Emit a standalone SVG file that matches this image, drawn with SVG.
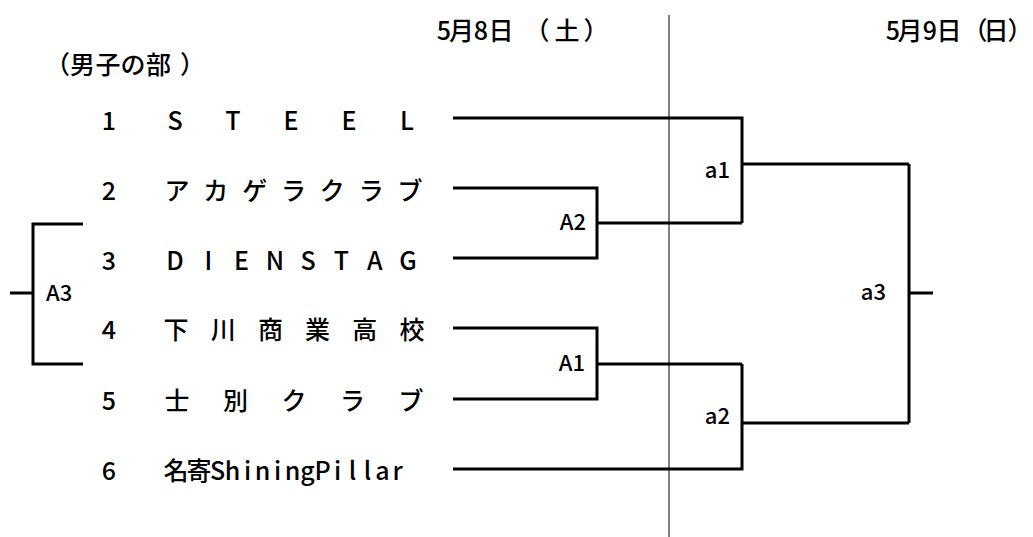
<svg xmlns="http://www.w3.org/2000/svg" width="1033" height="537" viewBox="0 0 1033 537">
<style>
.t{font-family:"Noto Sans CJK JP","Noto Sans",sans-serif;fill:#000;text-anchor:middle;font-weight:500}
.b{font-size:25px}
.l{font-size:22px}
.e{text-anchor:end}
.s{text-anchor:start}
.ln{stroke:#000;stroke-width:3;fill:none;stroke-linejoin:miter}
.thin{stroke:#000;stroke-width:1;fill:none}
</style>
<rect width="1033" height="537" fill="#fff"/>
<g id="headers">
<text class="t b" x="444 461.5 481 501 537 567 596" y="40">5月8日（土）</text>
<text class="t b" x="893 910 930 949 975 996 1020" y="40">5月9日（日）</text>
<text class="t b" x="57.5 82.5 108 133 158.5 192.5" y="74">（男子の部）</text>
</g>
<g id="teams">
<g id="team1"><text class="t b" x="109" y="130">1</text><text class="t b" x="175 233 291 349 407" y="130">STEEL</text></g>
<g id="team2"><text class="t b" x="109" y="200">2</text><text class="t b" x="177 215.8 254.7 293.5 332.3 371.2 410" y="200">アカゲラクラブ</text></g>
<g id="team3"><text class="t b" x="109" y="270">3</text><text class="t b" x="175 208.3 241.6 274.9 308.1 341.4 374.7 408" y="270">DIENSTAG</text></g>
<g id="team4"><text class="t b" x="109" y="339">4</text><text class="t b" x="176 223.2 270.4 317.6 364.8 412" y="339">下川商業高校</text></g>
<g id="team5"><text class="t b" x="109" y="410">5</text><text class="t b" x="177 235.5 294 352.5 411" y="410">士別クラブ</text></g>
<g id="team6"><text class="t b" x="109" y="480">6</text><text class="t b" x="176 199 217.5 232.5 247.5 262.5 277.5 292.5 307.5 322.5 337.5 352.5 367.5 382.5 397.5" y="480">名寄ShiningPillar</text></g>
</g>
<g id="matches">
<g id="A1"><text class="t l e" x="585" y="371">A1</text></g>
<g id="A2"><text class="t l e" x="586" y="230">A2</text></g>
<g id="A3"><text class="t l s" x="46" y="301">A3</text></g>
<g id="a1"><text class="t l e" x="730" y="178">a1</text></g>
<g id="a2"><text class="t l e" x="730" y="424">a2</text></g>
<g id="a3"><text class="t l e" x="886" y="300">a3</text></g>
</g>
<g id="connectors">
<line class="thin" x1="669" y1="15" x2="669" y2="537"/>
<polyline class="ln" points="453,118 742,118 742,223"/>
<polyline class="ln" points="453,188 597,188 597,258 453,258"/>
<line class="ln" x1="597" y1="223" x2="742" y2="223"/>
<line class="ln" x1="742" y1="164" x2="909" y2="164"/>
<polyline class="ln" points="453,328 597,328 597,399 453,399"/>
<line class="ln" x1="597" y1="364" x2="742" y2="364"/>
<polyline class="ln" points="742,364 742,469 453,469"/>
<line class="ln" x1="742" y1="423" x2="909" y2="423"/>
<line class="ln" x1="909" y1="164" x2="909" y2="423"/>
<line class="ln" x1="909" y1="293" x2="933" y2="293"/>
<polyline class="ln" points="83,224 33,224 33,364 83,364"/>
<line class="ln" x1="10" y1="293" x2="33" y2="293"/>
</g>
</svg>
